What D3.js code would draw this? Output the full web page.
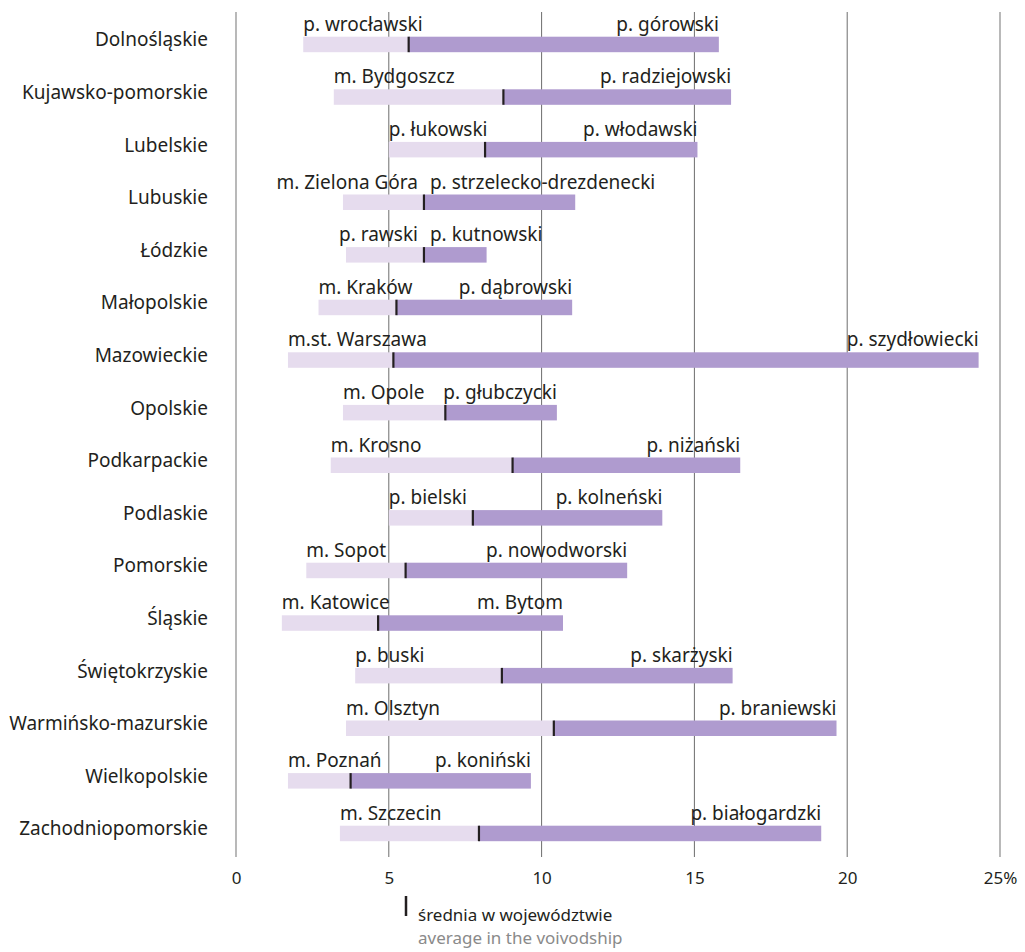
<!DOCTYPE html>
<html>
<head>
<meta charset="utf-8">
<script src="https://cdn.jsdelivr.net/npm/d3@7"></script>
<style>
  body { margin: 0; background: #fff; }
  text { font-family: "Noto Sans", sans-serif; fill: #231f20; }
</style>
</head>
<body>
<div id="chart-area"></div>
<script>
// data
let regions = ["Dolnośląskie", "Kujawsko-pomorskie", "Lubelskie", "Lubuskie", "Łódzkie",
  "Małopolskie", "Mazowieckie", "Opolskie", "Podkarpackie", "Podlaskie", "Pomorskie",
  "Śląskie", "Świętokrzyskie", "Warmińsko-mazurskie", "Wielkopolskie", "Zachodniopomorskie"];
let minVal = [2.2, 3.2, 5.0, 3.5, 3.6, 2.7, 1.7, 3.5, 3.1, 5.0, 2.3, 1.5, 3.9, 3.6, 1.7, 3.4];
let avgVal = [5.65, 8.75, 8.15, 6.15, 6.15, 5.25, 5.15, 6.85, 9.05, 7.75, 5.55, 4.65, 8.7, 10.4, 3.75, 7.95];
let maxVal = [15.8, 16.2, 15.1, 11.1, 8.2, 11.0, 24.3, 10.5, 16.5, 13.95, 12.8, 10.7, 16.25, 19.65, 9.65, 19.15];
let minName = ["p. wrocławski", "m. Bydgoszcz", "p. łukowski", "m. Zielona Góra", "p. rawski",
  "m. Kraków", "m.st. Warszawa", "m. Opole", "m. Krosno", "p. bielski", "m. Sopot",
  "m. Katowice", "p. buski", "m. Olsztyn", "m. Poznań", "m. Szczecin"];
let maxName = ["p. górowski", "p. radziejowski", "p. włodawski", "p. strzelecko-drezdenecki",
  "p. kutnowski", "p. dąbrowski", "p. szydłowiecki", "p. głubczycki", "p. niżański",
  "p. kolneński", "p. nowodworski", "m. Bytom", "p. skarżyski", "p. braniewski",
  "p. koniński", "p. białogardzki"];
let ticks = [0, 5, 10, 15, 20, 25];

let data = regions.map(function(r, i) {
  return {region: r, min: minVal[i], avg: avgVal[i], max: maxVal[i], minName: minName[i], maxName: maxName[i]};
});

let W = 1025, H = 952;

let svg = d3.select("#chart-area")
    .append("svg")
    .attr("width", W)
    .attr("height", H);

let x = d3.scaleLinear().domain([0, 25]).range([236, 1000]);
let y = d3.scaleBand().domain(regions).range([11, 11 + 16 * 52.6]);

let barOff = 25.7, barH = 15.5, fs = "19px";

// gridlines
svg.append("g").selectAll("line")
    .data(ticks)
    .enter()
    .append("line")
      .attr("x1", function(d) { return x(d); })
      .attr("x2", function(d) { return x(d); })
      .attr("y1", 12)
      .attr("y2", 857)
      .attr("stroke", function(d) { return (d == 0 || d == 25) ? "#a7a7a7" : "#6d6d6d"; })
      .attr("stroke-width", function(d) { return (d == 0 || d == 25) ? 1.6 : 1; });

// axis labels
let xAxisCall = d3.axisBottom(x)
    .tickValues(ticks)
    .tickSize(0)
    .tickPadding(15)
    .tickFormat(function(d) { return d == 25 ? d + "%" : d; });
let ax = svg.append("g")
    .attr("transform", "translate(0,857)")
    .call(xAxisCall);
ax.select(".domain").remove();
ax.selectAll("text")
    .attr("font-size", "17px")
    .style("font-family", "'Noto Sans', sans-serif")
    .attr("fill", "#231f20");

let rows = svg.append("g").selectAll("g")
    .data(data)
    .enter()
    .append("g")
    .attr("transform", function(d) { return "translate(0," + (y(d.region) + barOff) + ")"; });

// row names
rows.append("text")
    .attr("x", 208)
    .attr("y", 3)
    .attr("dy", "0.35em")
    .attr("text-anchor", "end")
    .attr("font-size", fs)
    .text(function(d) { return d.region; });

// light bar: min -> avg
rows.append("rect")
    .attr("x", function(d) { return x(d.min); })
    .attr("width", function(d) { return x(d.avg) - x(d.min); })
    .attr("height", barH)
    .attr("fill", "#e6dcee");

// dark bar: avg -> max
rows.append("rect")
    .attr("x", function(d) { return x(d.avg); })
    .attr("width", function(d) { return x(d.max) - x(d.avg); })
    .attr("height", barH)
    .attr("fill", "#af9bcf");

// average tick
rows.append("line")
    .attr("x1", function(d) { return x(d.avg); })
    .attr("x2", function(d) { return x(d.avg); })
    .attr("y1", 0)
    .attr("y2", barH)
    .attr("stroke", "#231f20")
    .attr("stroke-width", 2.2);

// min + max labels: min at left end, max right-aligned at right end,
// if they run into each other split them at the average
rows.each(function(d) {
  let g = d3.select(this);
  let lo = g.append("text").attr("y", -6).attr("font-size", fs).text(d.minName);
  let hi = g.append("text").attr("y", -6).attr("font-size", fs).text(d.maxName);
  let wl = lo.node().getComputedTextLength();
  let wh = hi.node().getComputedTextLength();
  let lx = x(d.min), hx = x(d.max) - wh;
  if (hx < lx + wl + 8) {
    hx = x(d.avg) + 6;
    if (lx + wl > x(d.avg) - 6) lx = x(d.avg) - 6 - wl;
  }
  lo.attr("x", lx);
  hi.attr("x", hx);
});

// legend
let lg = svg.append("g").attr("transform", "translate(406,0)");
lg.append("line")
    .attr("x1", 0).attr("x2", 0)
    .attr("y1", 896).attr("y2", 916)
    .attr("stroke", "#231f20")
    .attr("stroke-width", 2.5);
lg.append("text")
    .attr("x", 12).attr("y", 921)
    .attr("font-size", "17px")
    .text("średnia w województwie");
lg.append("text")
    .attr("x", 12).attr("y", 944)
    .attr("font-size", "17px")
    .style("fill", "#8a8a8a")
    .text("average in the voivodship");
</script>
</body>
</html>
